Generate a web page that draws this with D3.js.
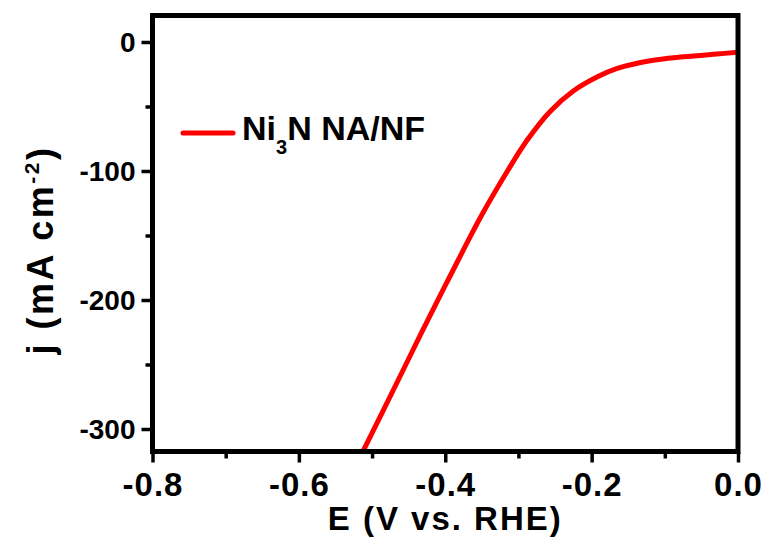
<!DOCTYPE html>
<html>
<head>
<meta charset="utf-8">
<script src="https://cdn.jsdelivr.net/npm/d3@7"></script>
<style>
  body { margin: 0; background: #fff; }
  text { font-family: "Liberation Sans", Arial, sans-serif; font-weight: bold; fill: #000; }
</style>
</head>
<body>
<div class="chart"></div>
<script>
// LSV curve
const potential = [-0.513, -0.485, -0.459, -0.434, -0.411, -0.393, -0.375, -0.352, -0.315,
                   -0.288, -0.257, -0.225, -0.192, -0.165, -0.12, -0.075, -0.029, 0.0];
const current = [-318, -286, -256, -227, -201, -181, -161, -136, -100,
                 -76, -54, -38, -27, -20.5, -14.5, -11.5, -9.3, -8];

const xMajor = [-0.8, -0.6, -0.4, -0.2, 0.0];
const xMinor = [-0.7, -0.5, -0.3, -0.1];
const yMajor = [0, -100, -200, -300];
const yMinor = [-50, -150, -250];

const width = 769;
const height = 540;
const pLeft = 152.5, pRight = 738, pTop = 15.5, pBottom = 451.5;

const svg = d3.select(".chart")
              .append("svg")
              .attr("width", width)
              .attr("height", height);

const x = d3.scaleLinear().domain([-0.8, 0]).range([pLeft, pRight]);
const y = d3.scaleLinear().domain([0, -300]).range([42, 429]);

// plain hyphen instead of the unicode minus d3 uses
const hy = (f) => (d) => f(d).replace("\u2212", "-");

// ticks
const xAxis = svg.append("g")
  .attr("transform", `translate(0,${pBottom})`)
  .call(d3.axisBottom(x).tickValues(xMajor).tickSize(11).tickSizeOuter(0)
          .tickFormat(hy(d3.format(".1f"))));
svg.append("g")
  .attr("transform", `translate(0,${pBottom})`)
  .call(d3.axisBottom(x).tickValues(xMinor).tickSize(7).tickSizeOuter(0).tickFormat(""));

const yAxis = svg.append("g")
  .attr("transform", `translate(${pLeft},0)`)
  .call(d3.axisLeft(y).tickValues(yMajor).tickSize(11).tickSizeOuter(0)
          .tickFormat(hy(d3.format("d"))));
svg.append("g")
  .attr("transform", `translate(${pLeft},0)`)
  .call(d3.axisLeft(y).tickValues(yMinor).tickSize(7).tickSizeOuter(0).tickFormat(""));

svg.selectAll(".domain").remove();
svg.selectAll(".tick line").attr("stroke", "#000").attr("stroke-width", 3.5);

xAxis.selectAll(".tick text")
  .attr("y", 44)
  .attr("dy", 0)
  .style("font-size", "33px")
  .style("letter-spacing", "1px")
  .style("font-family", '"Liberation Sans", Arial, sans-serif')
  .style("font-weight", "bold")
  .attr("fill", "#000");

yAxis.selectAll(".tick text")
  .attr("x", -17)
  .attr("dy", "0.34em")
  .style("font-size", "28px")
  .style("font-family", '"Liberation Sans", Arial, sans-serif')
  .style("font-weight", "bold")
  .attr("fill", "#000");

// curve
const line = d3.line()
  .x((d, i) => x(potential[i]))
  .y((d) => y(d))
  .curve(d3.curveCatmullRom.alpha(0.5));

svg.append("clipPath").attr("id", "clip")
  .append("rect")
  .attr("x", pLeft).attr("y", pTop)
  .attr("width", pRight - pLeft).attr("height", pBottom - pTop);

svg.append("path")
  .datum(current)
  .attr("d", line)
  .attr("fill", "none")
  .attr("stroke", "#ff0000")
  .attr("stroke-width", 5)
  .attr("clip-path", "url(#clip)");

// frame
svg.append("rect")
  .attr("x", pLeft).attr("y", pTop)
  .attr("width", pRight - pLeft).attr("height", pBottom - pTop)
  .attr("fill", "none")
  .attr("stroke", "#000")
  .attr("stroke-width", 5);

// legend
svg.append("line")
  .attr("x1", 183).attr("x2", 233)
  .attr("y1", 133).attr("y2", 133)
  .attr("stroke", "#ff0000")
  .attr("stroke-width", 5)
  .attr("stroke-linecap", "round");

const leg = svg.append("text")
  .attr("x", 242).attr("y", 140)
  .style("font-size", "34px");
leg.append("tspan").text("Ni");
leg.append("tspan").text("3").attr("dy", 14).style("font-size", "20px");
leg.append("tspan").text("N NA/NF").attr("dy", -14);

// axis titles
svg.append("text")
  .attr("x", (pLeft + pRight) / 2)
  .attr("y", 530)
  .attr("text-anchor", "middle")
  .style("font-size", "33px")
  .style("letter-spacing", "2px")
  .text("E (V vs. RHE)");

const yt = svg.append("text")
  .attr("transform", "translate(53,250) rotate(-90)")
  .attr("text-anchor", "middle")
  .style("font-size", "36px")
  .style("letter-spacing", "2.5px");
yt.append("tspan").text("j (mA cm");
yt.append("tspan").text("-2").attr("dy", -14).style("font-size", "21px");
yt.append("tspan").text(")").attr("dy", 14);
</script>
</body>
</html>
